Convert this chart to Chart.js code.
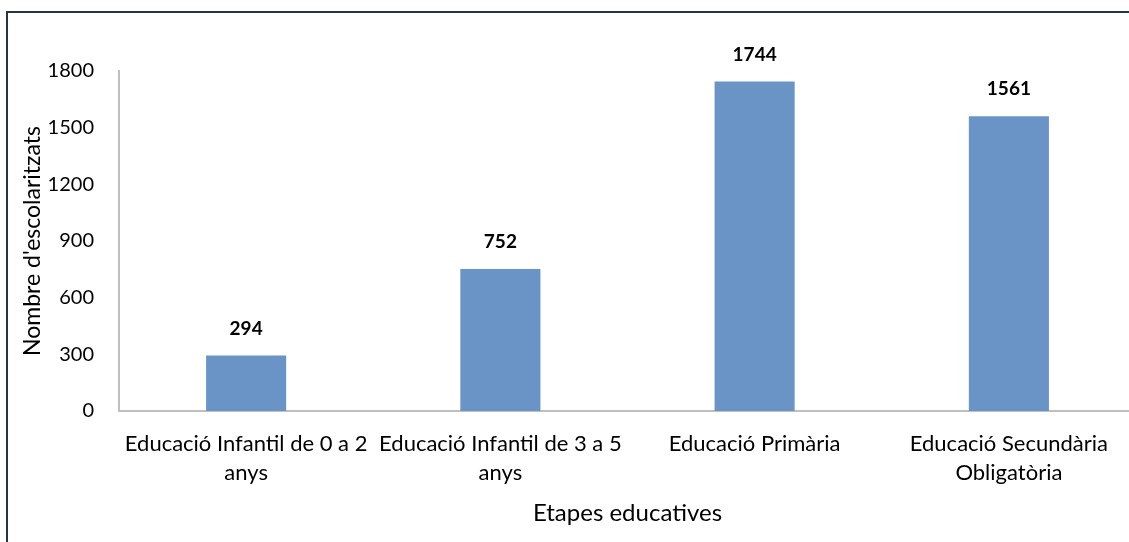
<!DOCTYPE html>
<html>
<head>
<meta charset="utf-8">
<script src="https://cdn.jsdelivr.net/npm/chart.js@4/dist/chart.umd.min.js"></script>
<style>
  html, body { margin: 0; padding: 0; background: #fff; overflow: hidden; }
  #wrap { position: relative; width: 1140px; height: 542px; }
  #frame { position: absolute; left: 6px; top: 11px; width: 1200px; height: 600px; border: 2px solid #243546; box-sizing: border-box; pointer-events: none; }
</style>
</head>
<body>
<div id="wrap">
  <canvas id="chart" width="1140" height="542"></canvas>
  <div id="frame"></div>
</div>
<script>
const categories = [
    ["Educació Infantil de 0 a 2", "anys"],
    ["Educació Infantil de 3 a 5", "anys"],
    "Educació Primària",
    ["Educació Secundària", "Obligatòria"]
];
const values = [294, 752, 1744, 1561];
const yTicks = [0, 300, 600, 900, 1200, 1500, 1800];
const yTitle = "Nombre d'escolaritzats";
const xTitle = "Etapes educatives";

const fontFamily = "Lato, 'Open Sans', sans-serif";

// draws the bold value above each bar
const valueLabels = {
    id: 'valueLabels',
    afterDatasetsDraw(chart) {
        const ctx = chart.ctx;
        const meta = chart.getDatasetMeta(0);
        ctx.save();
        ctx.font = "bold 19px " + fontFamily;
        ctx.fillStyle = "#000";
        ctx.textAlign = "center";
        ctx.textBaseline = "middle";
        meta.data.forEach(function (bar, i) {
            ctx.fillText(String(values[i]), bar.x, bar.y - 27);
        });
        ctx.restore();
    }
};

new Chart(document.getElementById('chart'), {
    type: 'bar',
    data: {
        labels: categories,
        datasets: [{
            data: values,
            backgroundColor: '#6a93c6',
            borderWidth: 0,
            categoryPercentage: 1,
            barPercentage: 0.315
        }]
    },
    options: {
        responsive: false,
        animation: false,
        layout: { padding: { top: 71, right: 4, left: 15, bottom: 0 } },
        plugins: {
            legend: { display: false },
            tooltip: { enabled: false }
        },
        scales: {
            x: {
                grid: { display: false, drawTicks: false },
                border: { color: '#bfbfbf', width: 2 },
                ticks: {
                    color: '#000',
                    font: { family: fontFamily, size: 22, lineHeight: 1.32 },
                    padding: 18,
                    maxRotation: 0,
                    autoSkip: false
                },
                title: {
                    display: true,
                    text: xTitle,
                    color: '#000',
                    font: { family: fontFamily, size: 24 },
                    padding: { top: 0, bottom: 14 }
                },
                afterFit: function (scale) { scale.height = 131; }
            },
            y: {
                min: 0,
                max: 1800,
                afterBuildTicks: function (scale) {
                    scale.ticks = yTicks.map(v => ({ value: v }));
                },
                grid: { display: false, drawTicks: false },
                border: { color: '#bfbfbf', width: 2 },
                ticks: {
                    color: '#000',
                    font: { family: fontFamily, size: 20 },
                    padding: 25,
                    callback: function (value) { return String(value); }
                },
                title: {
                    display: true,
                    text: yTitle,
                    color: '#000',
                    font: { family: fontFamily, size: 23 },
                    padding: { top: 4, bottom: 0 }
                },
                afterFit: function (scale) { scale.width = 104; }
            }
        }
    },
    plugins: [valueLabels]
});
</script>
</body>
</html>
